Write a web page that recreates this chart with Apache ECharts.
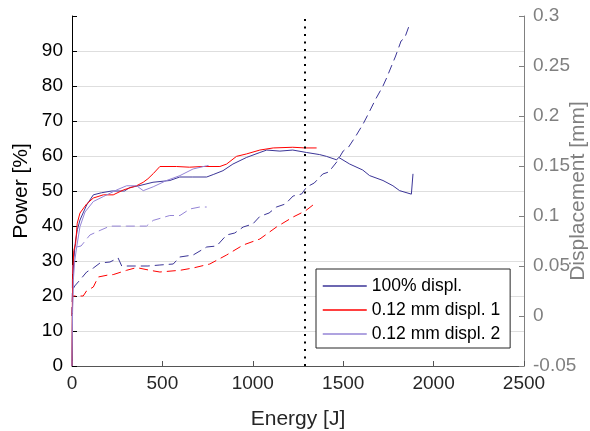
<!DOCTYPE html>
<html>
<head>
<meta charset="utf-8">
<script src="https://cdn.jsdelivr.net/npm/echarts@6/dist/echarts.min.js"></script>
<style>
html,body{margin:0;padding:0;background:#fff;}
#chart{width:590px;height:431px;}
</style>
</head>
<body>
<div id="chart"></div>
<script>
// ---- Data (Energy [J] vs Power [%] / Displacement [mm]) ----
const seriesNames = ['100% displ.', '0.12 mm displ. 1', '0.12 mm displ. 2'];

// 100% displ. — power
const energyP100 = [0, 2, 5, 10, 20, 30, 44, 81, 118, 163, 220, 290, 320, 370, 448, 541, 596, 668, 745, 781, 835, 890, 966, 1039, 1077, 1150, 1221, 1298, 1370, 1407, 1464, 1475, 1536, 1608, 1646, 1720, 1775, 1812, 1877, 1886];
const powerP100  = [0, 14, 24, 31, 36, 39, 41.7, 46, 48.9, 49.5, 50, 50, 51, 51.5, 52.5, 53, 54, 54, 54, 54.7, 55.8, 57.7, 59.6, 61, 61.7, 61.4, 61.7, 61, 60.4, 59.9, 58.9, 59.6, 57.7, 56, 54.4, 53, 51.5, 50.1, 49.1, 54.9];

// 100% displ. — displacement
const energyD100 = [0, 3, 15, 44, 81, 118, 155, 210, 255, 275, 350, 420, 486, 560, 596, 670, 745, 800, 855, 900, 947, 1000, 1039, 1090, 1131, 1180, 1223, 1270, 1298, 1340, 1387, 1420, 1464, 1500, 1530, 1570, 1610, 1630, 1680, 1720, 1740, 1790, 1820, 1840, 1870];
const displD100  = [0, 0.026, 0.03, 0.036, 0.044, 0.048, 0.053, 0.054, 0.058, 0.05, 0.05, 0.05, 0.051, 0.052, 0.059, 0.061, 0.069, 0.07, 0.081, 0.083, 0.089, 0.092, 0.0996, 0.103, 0.109, 0.112, 0.12, 0.122, 0.129, 0.133, 0.142, 0.144, 0.154, 0.165, 0.169, 0.18, 0.192, 0.199, 0.217, 0.23, 0.238, 0.26, 0.275, 0.278, 0.293];

// 0.12 mm displ. 1 — power
const energyP1 = [0, 2, 5, 10, 20, 29, 44, 81, 118, 173, 228, 284, 357, 394, 420, 450, 486, 578, 650, 720, 818, 855, 910, 966, 1039, 1113, 1221, 1290, 1353];
const powerP1  = [0, 18, 28, 33, 35, 40.8, 43.7, 46.3, 48, 48.9, 48.9, 50.3, 51.5, 52.5, 53.5, 55, 57, 57, 56.8, 57, 57, 57.7, 59.9, 60.6, 61.7, 62.3, 62.5, 62.3, 62.3];

// 0.12 mm displ. 1 — displacement
const energyD1 = [0, 3, 45, 62, 80, 118, 145, 200, 228, 302, 357, 431, 486, 597, 670, 762, 855, 947, 1039, 1131, 1223, 1290, 1333];
const displD1  = [0, 0.02, 0.02, 0.02, 0.025, 0.029, 0.039, 0.041, 0.0414, 0.0457, 0.0484, 0.0457, 0.044, 0.0457, 0.048, 0.052, 0.061, 0.071, 0.077, 0.089, 0.099, 0.105, 0.111];

// 0.12 mm displ. 2 — power
const energyP2 = [0, 3, 8, 15, 26, 44, 72, 118, 173, 247, 302, 357, 394, 449, 523, 597, 670, 745, 755];
const powerP2  = [0, 15, 25, 30, 34, 39.8, 44, 47, 48.4, 50.3, 51.5, 51.5, 50.1, 51.2, 53, 54.4, 56.3, 57.2, 57.3];

// 0.12 mm displ. 2 — displacement
const energyD2 = [0, 3, 15, 26, 50, 99, 155, 210, 300, 412, 449, 541, 597, 652, 707, 745];
const displD2  = [0, 0.05, 0.065, 0.069, 0.07, 0.081, 0.0856, 0.0899, 0.0899, 0.0899, 0.0956, 0.1005, 0.1005, 0.107, 0.109, 0.109];

const markerEnergy = 1290;

const powerTicks = [0, 10, 20, 30, 40, 50, 60, 70, 80, 90];

// ---- Chart ----
const pair = (xs, ys) => xs.map((x, i) => [x, ys[i]]);
const colors = ['#3b3597', '#ff0000', '#9484d6'];
const FONT = "'Liberation Sans', Arial, Helvetica, sans-serif";

const chart = echarts.init(document.getElementById('chart'), null, {renderer: 'canvas'});

const solid = (name, data, color) => ({
  name, type: 'line', yAxisIndex: 0, data, symbol: 'none', animation: false,
  lineStyle: {color, width: 1}, itemStyle: {color}, z: 3
});
const dashed = (name, data, color) => ({
  name: name + ' (displ)', type: 'line', yAxisIndex: 1, data, symbol: 'none', animation: false,
  lineStyle: {color, width: 1, type: [9, 5]}, itemStyle: {color}, z: 2
});

// grid lines at 0..90, none at the top edge (100)
const gridColors = powerTicks.map(() => '#dedede').concat(['rgba(0,0,0,0)']);

const option = {
  backgroundColor: '#fff',
  textStyle: {fontFamily: FONT},
  grid: {left: 72, right: 66, top: 16, bottom: 65, containLabel: false, outerBoundsMode: 'none'},
  legend: {
    data: seriesNames,
    orient: 'vertical',
    left: 316, top: 269,
    padding: [7, 10, 4, 6],
    itemGap: 4,
    itemWidth: 44, itemHeight: 14,
    itemStyle: {opacity: 0},
    lineStyle: {width: 1.5},
    backgroundColor: '#fff',
    borderColor: '#262626', borderWidth: 1, borderRadius: 0,
    textStyle: {fontSize: 17.5, color: '#000', fontFamily: FONT, lineHeight: 20},
    selectedMode: false
  },
  xAxis: {
    type: 'value', min: 0, max: 2500, interval: 500,
    name: 'Energy [J]', nameLocation: 'middle', nameGap: 43,
    nameTextStyle: {fontSize: 21, color: '#262626', fontFamily: FONT},
    axisLine: {show: true, lineStyle: {color: '#555', width: 1}},
    axisTick: {show: true, inside: true, length: 5, lineStyle: {color: '#555'}},
    axisLabel: {fontSize: 19, color: '#262626', margin: 8, fontFamily: FONT,
      formatter: v => String(v)},
    splitLine: {show: false}
  },
  yAxis: [
    {
      type: 'value', min: 0, max: 100, interval: 10, position: 'left',
      name: 'Power [%]', nameLocation: 'middle', nameGap: 40, nameRotate: 90,
      nameMoveOverlap: false,
      nameTextStyle: {fontSize: 21, color: '#000', fontFamily: FONT},
      axisLine: {show: true, lineStyle: {color: '#000', width: 1}},
      axisTick: {show: true, inside: true, length: 5, lineStyle: {color: '#000'}},
      axisLabel: {fontSize: 19, color: '#000', margin: 9, fontFamily: FONT,
        formatter: v => (v >= 100 ? '' : String(v))},
      splitLine: {show: true, lineStyle: {color: gridColors, width: 1}}
    },
    {
      type: 'value', min: -0.05, max: 0.3, interval: 0.05, position: 'right',
      name: 'Displacement [mm]', nameLocation: 'middle', nameGap: 44, nameRotate: 90,
      nameMoveOverlap: false,
      nameTextStyle: {fontSize: 21, color: '#808080', fontFamily: FONT},
      axisLine: {show: true, lineStyle: {color: '#808080', width: 1}},
      axisTick: {show: true, inside: true, length: 5, lineStyle: {color: '#808080'}},
      axisLabel: {fontSize: 19, color: '#808080', margin: 9, fontFamily: FONT,
        formatter: v => String(Math.round(v * 100) / 100)},
      splitLine: {show: false}
    }
  ],
  series: [
    dashed(seriesNames[0], pair(energyD100, displD100), colors[0]),
    dashed(seriesNames[1], pair(energyD1, displD1), colors[1]),
    dashed(seriesNames[2], pair(energyD2, displD2), colors[2]),
    solid(seriesNames[0], pair(energyP100, powerP100), colors[0]),
    solid(seriesNames[1], pair(energyP1, powerP1), colors[1]),
    solid(seriesNames[2], pair(energyP2, powerP2), colors[2]),
    {
      name: 'marker', type: 'line', yAxisIndex: 0, data: [], symbol: 'none', animation: false,
      markLine: {
        silent: true, symbol: ['none', 'none'], animation: false,
        label: {show: false},
        lineStyle: {color: '#000', width: 2, type: [2, 5.5]},
        data: [{xAxis: markerEnergy}]
      }
    }
  ]
};
chart.setOption(option);
</script>
</body>
</html>
